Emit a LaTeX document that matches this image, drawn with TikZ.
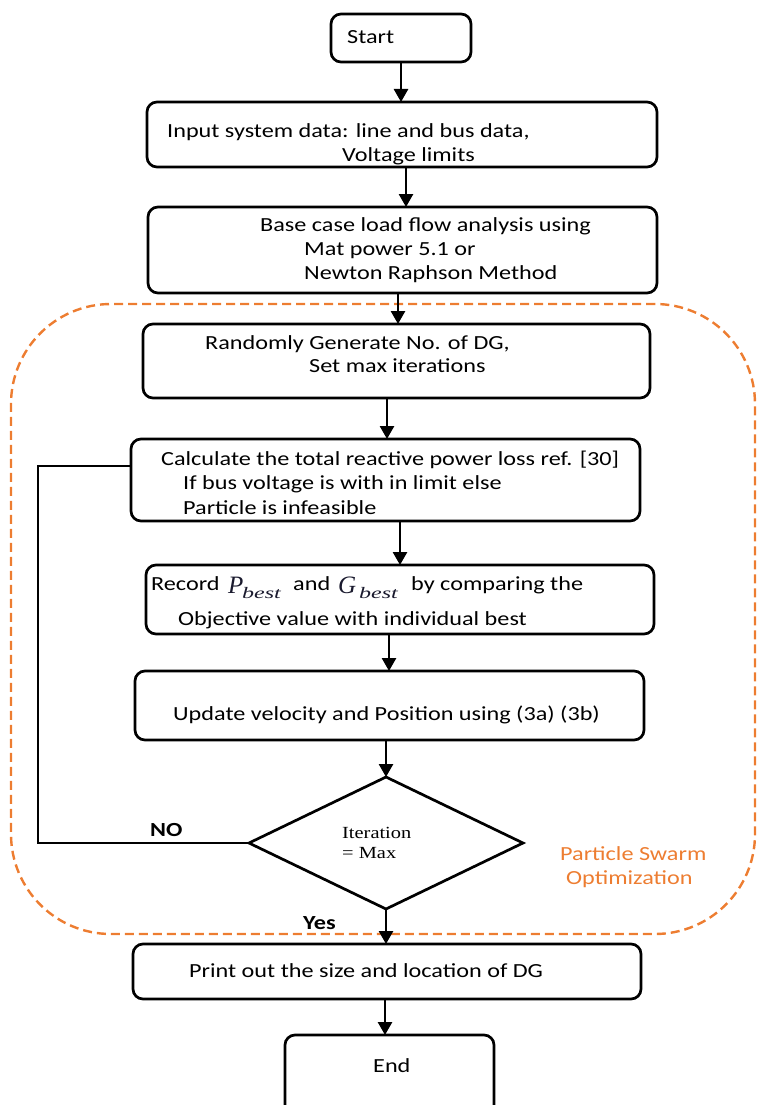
\documentclass[tikz,border=0pt]{standalone}
\usepackage{fontspec}
\setmainfont{Carlito}[FakeStretch=1.21]
\newfontfamily\tnr{Liberation Serif}[FakeStretch=1.2]
\newfontfamily\tnrm{Liberation Serif}
\newfontfamily\tnrw{Liberation Serif}[FakeStretch=1.5]
\usetikzlibrary{shapes.geometric,arrows.meta}
\definecolor{pso}{HTML}{ED7D31}
\definecolor{mathc}{HTML}{1A1A2E}
\begin{document}
\begin{tikzpicture}[x=1pt,y=-1pt,
  box/.style={draw,line width=2.7pt,rounded corners=10pt,inner sep=0pt,outer sep=0pt,fill=white},
  txt/.style={anchor=base west,inner sep=0pt,font=\fontsize{20}{24}\selectfont},
  mth/.style={anchor=base west,inner sep=0pt,text=mathc,font=\tnrm\itshape\fontsize{25}{26}\selectfont},
  sub/.style={anchor=base west,inner sep=0pt,text=mathc,font=\tnrw\itshape\fontsize{16}{17}\selectfont},
  lbl/.style={anchor=base west,inner sep=0pt,font=\fontsize{20}{24}\selectfont\bfseries},
  arr/.style={line width=2.7pt,-{Triangle[width=14pt,length=13pt]}},
  ln/.style={line width=2.7pt}]
\useasboundingbox (0,0) rectangle (756,1105);
\clip (0,0) rectangle (756,1105);
% PSO region
\node[draw=pso,line width=2.4pt,dash pattern=on 9pt off 5pt,rounded corners=100pt,
      minimum width=744,minimum height=630,inner sep=0pt] (psoreg) at (383,619) {};
\node[anchor=base west,inner sep=0pt,text=pso,font=\fontsize{20}{24}\selectfont] (psot1) at (560,860) {Particle Swarm};
\node[anchor=base west,inner sep=0pt,text=pso,font=\fontsize{20}{24}\selectfont] (psot2) at (566,884) {Optimization};
% boxes
\node[box,minimum width=140,minimum height=48] (start) at (401,38) {};
\node[box,minimum width=510,minimum height=65] (input) at (402,134.5) {};
\node[box,minimum width=509,minimum height=86] (base) at (402.5,250) {};
\node[box,minimum width=507,minimum height=74] (rand) at (396.5,361) {};
\node[box,minimum width=509,minimum height=82] (calc) at (385.5,480) {};
\node[box,minimum width=508,minimum height=69] (rec) at (400,599.5) {};
\node[box,minimum width=509,minimum height=69] (upd) at (389.5,705.5) {};
\node[draw,diamond,line width=2.7pt,inner sep=0pt,outer sep=0pt,minimum width=274,minimum height=132] (dia) at (386,843) {};
\node[box,minimum width=508,minimum height=55] (print) at (387,971.5) {};
\node[box,minimum width=209,minimum height=84] (endb) at (389.5,1077) {};
% texts
\node[txt] (tstart) at (347,44) {Start};
\node[txt] (tin1) at (167,138) {Input system data: line and bus data,};
\node[txt] (tin2) at (342,161) {Voltage limits};
\node[txt] (tb1) at (260,231) {Base case load flow analysis using};
\node[txt] (tb2) at (304,255) {Mat power 5.1 or};
\node[txt] (tb3) at (304,279) {Newton Raphson Method};
\node[txt] (tr1) at (205,349) {Randomly Generate No. of DG,};
\node[txt] (tr2) at (309,372) {Set max iterations};
\node[txt] (tc1) at (161,465) {Calculate the total reactive power loss ref. [30]};
\node[txt] (tc2) at (183,489) {If bus voltage is with in limit else};
\node[txt] (tc3) at (183,514) {Particle is infeasible};
\node[txt] (trec1) at (151,590) {Record};
\node[mth] (tp1) at (228,593) {P};
\node[sub] (tp2) at (242,598) {best};
\node[txt] (trec2) at (293,590) {and};
\node[mth] (tg1) at (338,593) {G};
\node[sub] (tg2) at (359,598) {best};
\node[txt] (trec3) at (411,590) {by comparing the};
\node[txt] (trec4) at (178,625) {Objective value with individual best};
\node[txt] (tu) at (173,720) {Update velocity and Position using (3a) (3b)};
\node[anchor=base west,inner sep=0pt,font=\tnr\fontsize{17}{20}\selectfont] (ti1) at (342,838) {Iteration};
\node[anchor=base west,inner sep=0pt,font=\tnr\fontsize{17}{20}\selectfont] (ti2) at (342,858) {= Max};
\node[lbl] (tno) at (150,836) {NO};
\node[lbl] (tyes) at (303,929) {Yes};
\node[txt] (tp) at (189,977) {Print out the size and location of DG};
\node[txt] (tend) at (373,1072) {End};
% connectors
\draw[arr] (start.south) -- (start.south |- input.north);
\draw[arr] ([xshift=4pt]input.south) -- ([xshift=4pt]input.south |- base.north);
\draw[arr] ([xshift=-4.5pt]base.south) -- ([xshift=-4.5pt]base.south |- rand.north);
\draw[arr] ([xshift=-9.5pt]rand.south) -- ([xshift=-9.5pt]rand.south |- calc.north);
\draw[arr] ([xshift=14.5pt]calc.south) -- ([xshift=14.5pt]calc.south |- rec.north);
\draw[arr] ([xshift=-11pt]rec.south) -- ([xshift=-11pt]rec.south |- upd.north);
\draw[arr] ([xshift=-3.5pt]upd.south) -- (dia.north);
\draw[arr] (dia.south) -- (dia.south |- print.north);
\draw[arr] ([xshift=-2pt]print.south) -- ([xshift=-2pt]print.south |- endb.north);
\coordinate (loopx) at (38,843);
\draw[ln] (dia.west) -- (loopx) |- ([yshift=14pt]calc.west);
\end{tikzpicture}
\end{document}
